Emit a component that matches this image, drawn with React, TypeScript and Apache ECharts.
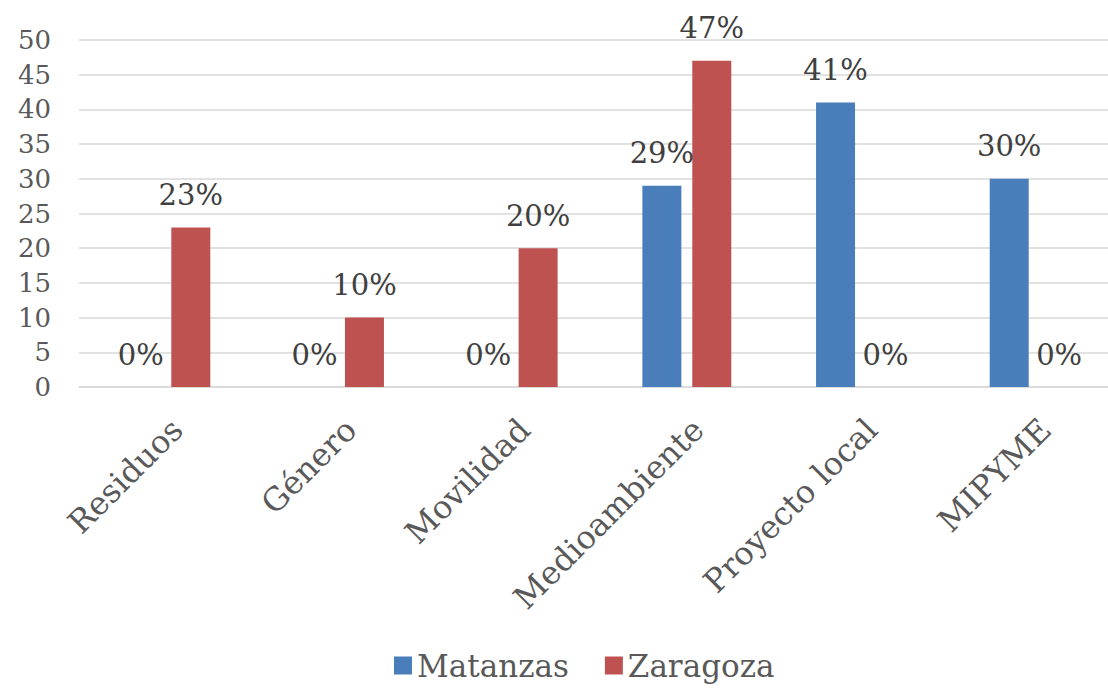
import React, { useEffect, useRef } from "react";
import * as echarts from "echarts";

const categories = ["Residuos", "Género", "Movilidad", "Medioambiente", "Proyecto local", "MIPYME"];
const matanzas = [0, 0, 0, 29, 41, 30];
const zaragoza = [23, 10, 20, 47, 0, 0];
const seriesNames = ["Matanzas", "Zaragoza"];

const FONT = "DejaVu Serif";
const TEXT = "#595959";

export default function App() {
  const ref = useRef<HTMLDivElement>(null);
  useEffect(() => {
    if (!ref.current) return;
    const chart = echarts.init(ref.current, undefined, { renderer: "svg" });
    const label = {
      show: true,
      position: "top",
      distance: 18,
      formatter: "{c}%",
      fontFamily: FONT,
      fontSize: 29,
      color: "#404040",
    };
    chart.setOption({
      animation: false,
      textStyle: { fontFamily: FONT },
      grid: {
        left: 79,
        width: 1042,
        top: 40,
        bottom: 301,
        containLabel: false,
        outerBoundsMode: "none",
      },
      legend: {
        bottom: 2,
        left: 389,
        itemWidth: 18,
        itemHeight: 18,
        itemGap: 36,
        icon: "rect",
        textStyle: { fontFamily: FONT, fontSize: 31, color: TEXT },
        data: seriesNames,
      },
      xAxis: {
        type: "category",
        data: categories,
        axisLine: { lineStyle: { color: "#d9d9d9", width: 1.5 } },
        axisTick: { show: false },
        axisLabel: {
          rotate: 45,
          fontFamily: FONT,
          fontSize: 32,
          color: TEXT,
          margin: 26,
          interval: 0,
          verticalAlign: "top",
        },
      },
      yAxis: {
        type: "value",
        min: 0,
        max: 50,
        interval: 5,
        axisLine: { show: false },
        axisTick: { show: false },
        splitLine: { lineStyle: { color: "#d9d9d9", width: 1.5 } },
        axisLabel: { fontFamily: FONT, fontSize: 26, color: TEXT, margin: 28 },
      },
      series: [
        {
          name: seriesNames[0],
          type: "bar",
          data: matanzas,
          barWidth: 39,
          barGap: "28%",
          itemStyle: { color: "#4a7ebb" },
          label,
        },
        {
          name: seriesNames[1],
          type: "bar",
          data: zaragoza,
          barWidth: 39,
          barGap: "28%",
          itemStyle: { color: "#be5250" },
          label,
        },
      ],
    });
    return () => chart.dispose();
  }, []);
  return <div ref={ref} style={{ width: 1108, height: 688, position: "absolute", left: 0, top: 0, background: "#fff" }} />;
}
